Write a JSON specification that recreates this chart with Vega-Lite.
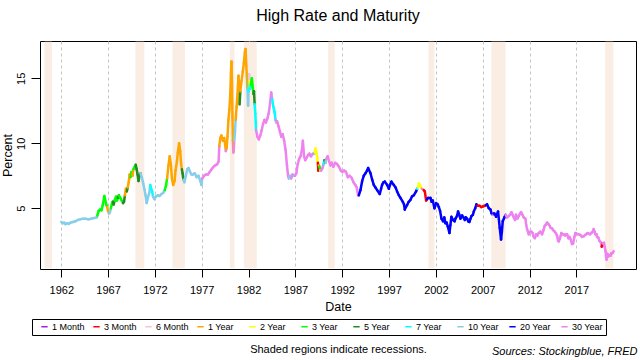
{
"$schema": "https://vega.github.io/schema/vega-lite/v6.json",
"padding": {"left": 0, "top": 7, "right": 0, "bottom": 0},
"background": "white",
"config": {
  "font": "Liberation Sans",
  "view": {"stroke": "black", "strokeWidth": 1},
  "axis": {"domain": false, "tickColor": "black", "tickSize": 9, "labelColor": "black", "labelFontSize": 11, "labelFont": "Liberation Sans", "titleFont": "Liberation Sans", "titleFontSize": 12.5, "titleFontWeight": "normal", "titleColor": "black", "gridColor": "#c4c4c4", "gridDash": [3, 3], "gridWidth": 1},
  "title": {"font": "Liberation Sans", "fontWeight": "normal", "color": "black"}
},
"title": {"text": "Sources: Stockingblue, FRED", "orient": "bottom", "anchor": "end", "fontSize": 11, "fontStyle": "italic", "offset": -9.5, "dx": 1},
"vconcat": [{
 "title": {"text": "Shaded regions indicate recessions.", "orient": "bottom", "anchor": "middle", "fontSize": 11, "offset": 31, "dx": 20},
 "vconcat": [{
  "title": {"text": "High Rate and Maturity", "fontSize": 16, "anchor": "middle", "frame": "group", "offset": 17},
  "width": 596,
  "height": 228,
  "layer": [
   {
    "data": {"values": [
      {"s": 1960.2, "e": 1961.0}, {"s": 1969.92, "e": 1970.87}, {"s": 1973.87, "e": 1975.2},
      {"s": 1980.0, "e": 1980.5}, {"s": 1981.5, "e": 1982.87}, {"s": 1990.5, "e": 1991.2},
      {"s": 2001.2, "e": 2001.85}, {"s": 2007.92, "e": 2009.45}, {"s": 2020.08, "e": 2020.95}
    ]},
    "mark": {"type": "rect", "color": "#faede3"},
    "encoding": {
      "x": {"field": "s", "type": "quantitative", "scale": {"domain": [1959.73, 2023.37], "nice": false, "zero": false},
            "axis": {"values": [1962, 1967, 1972, 1977, 1982, 1987, 1992, 1997, 2002, 2007, 2012, 2017], "format": "d", "title": "Date", "tickSize": 8, "labelPadding": 7, "titlePadding": 5}},
      "x2": {"field": "e"},
      "y": {"datum": 0.38, "type": "quantitative", "scale": {"domain": [0.33, 17.87], "nice": false, "zero": false},
            "axis": {"values": [5, 10, 15], "title": "Percent", "labelAngle": -90, "labelAlign": "center", "labelBaseline": "bottom", "labelPadding": 5, "titlePadding": 1}},
      "y2": {"datum": 17.82}
    }
   },
   {
    "data": {"values": [
{"t":1962.0,"r":3.95,"m":"10 Year"},{"t":1962.15,"r":3.85,"m":"10 Year"},{"t":1962.3,"r":3.9,"m":"10 Year"},{"t":1962.45,"r":3.78,"m":"10 Year"},{"t":1962.6,"r":3.85,"m":"10 Year"},{"t":1962.8,"r":3.8,"m":"10 Year"},{"t":1963.0,"r":3.9,"m":"10 Year"},{"t":1963.25,"r":3.95,"m":"10 Year"},{"t":1963.5,"r":4.0,"m":"10 Year"},{"t":1963.75,"r":4.1,"m":"10 Year"},{"t":1964.0,"r":4.15,"m":"10 Year"},{"t":1964.3,"r":4.2,"m":"10 Year"},{"t":1964.6,"r":4.2,"m":"10 Year"},{"t":1964.9,"r":4.15,"m":"10 Year"},{"t":1965.2,"r":4.2,"m":"10 Year"},{"t":1965.5,"r":4.25,"m":"10 Year"},{"t":1965.8,"r":4.3,"m":"10 Year"},
{"t":1965.85,"r":4.45,"m":"3 Year"},{"t":1966.0,"r":4.8,"m":"3 Year"},{"t":1966.15,"r":4.9,"m":"3 Year"},{"t":1966.3,"r":4.85,"m":"3 Year"},{"t":1966.45,"r":5.3,"m":"3 Year"},{"t":1966.6,"r":5.95,"m":"3 Year"},{"t":1966.7,"r":5.6,"m":"3 Year"},{"t":1966.8,"r":5.3,"m":"3 Year"},
{"t":1966.9,"r":5.1,"m":"1 Year"},{"t":1967.0,"r":4.8,"m":"1 Year"},
{"t":1967.1,"r":4.6,"m":"10 Year"},{"t":1967.2,"r":4.7,"m":"10 Year"},
{"t":1967.3,"r":5.0,"m":"3 Year"},{"t":1967.4,"r":5.3,"m":"3 Year"},
{"t":1967.5,"r":5.5,"m":"5 Year"},{"t":1967.6,"r":5.3,"m":"5 Year"},
{"t":1967.7,"r":5.6,"m":"3 Year"},{"t":1967.85,"r":5.9,"m":"3 Year"},{"t":1967.95,"r":5.6,"m":"3 Year"},
{"t":1968.05,"r":5.8,"m":"5 Year"},
{"t":1968.15,"r":6.0,"m":"3 Year"},{"t":1968.3,"r":5.8,"m":"3 Year"},{"t":1968.45,"r":5.6,"m":"3 Year"},
{"t":1968.6,"r":5.4,"m":"5 Year"},{"t":1968.7,"r":5.5,"m":"5 Year"},
{"t":1968.8,"r":6.0,"m":"1 Year"},{"t":1968.9,"r":6.5,"m":"1 Year"},
{"t":1969.0,"r":6.3,"m":"5 Year"},
{"t":1969.1,"r":6.6,"m":"1 Year"},{"t":1969.2,"r":7.0,"m":"1 Year"},{"t":1969.3,"r":7.6,"m":"1 Year"},
{"t":1969.4,"r":7.4,"m":"3 Year"},{"t":1969.5,"r":7.8,"m":"3 Year"},
{"t":1969.6,"r":7.5,"m":"1 Year"},
{"t":1969.7,"r":8.0,"m":"3 Year"},{"t":1969.85,"r":8.2,"m":"3 Year"},
{"t":1969.95,"r":8.35,"m":"5 Year"},{"t":1970.05,"r":8.0,"m":"5 Year"},{"t":1970.15,"r":7.6,"m":"5 Year"},{"t":1970.25,"r":7.1,"m":"5 Year"},{"t":1970.35,"r":7.5,"m":"5 Year"},
{"t":1970.45,"r":7.7,"m":"10 Year"},{"t":1970.6,"r":7.4,"m":"10 Year"},{"t":1970.75,"r":6.9,"m":"10 Year"},{"t":1970.9,"r":6.4,"m":"10 Year"},{"t":1971.0,"r":6.0,"m":"10 Year"},{"t":1971.12,"r":5.4,"m":"10 Year"},{"t":1971.25,"r":5.8,"m":"10 Year"},{"t":1971.4,"r":6.2,"m":"10 Year"},
{"t":1971.5,"r":6.8,"m":"7 Year"},{"t":1971.6,"r":6.5,"m":"7 Year"},{"t":1971.7,"r":6.3,"m":"7 Year"},
{"t":1971.8,"r":5.9,"m":"10 Year"},{"t":1971.95,"r":5.7,"m":"10 Year"},{"t":1972.1,"r":5.9,"m":"10 Year"},{"t":1972.3,"r":6.0,"m":"10 Year"},{"t":1972.5,"r":5.95,"m":"10 Year"},{"t":1972.7,"r":6.1,"m":"10 Year"},{"t":1972.9,"r":6.2,"m":"10 Year"},
{"t":1973.05,"r":6.4,"m":"3 Year"},{"t":1973.2,"r":6.8,"m":"3 Year"},
{"t":1973.3,"r":7.3,"m":"1 Year"},{"t":1973.45,"r":8.3,"m":"1 Year"},{"t":1973.58,"r":9.0,"m":"1 Year"},{"t":1973.7,"r":8.4,"m":"1 Year"},{"t":1973.82,"r":7.3,"m":"1 Year"},{"t":1973.95,"r":6.8,"m":"1 Year"},{"t":1974.1,"r":7.1,"m":"1 Year"},{"t":1974.2,"r":7.9,"m":"1 Year"},{"t":1974.35,"r":8.6,"m":"1 Year"},{"t":1974.45,"r":9.3,"m":"1 Year"},{"t":1974.58,"r":10.0,"m":"1 Year"},{"t":1974.7,"r":9.4,"m":"1 Year"},{"t":1974.8,"r":8.4,"m":"1 Year"},
{"t":1974.88,"r":8.0,"m":"5 Year"},{"t":1974.95,"r":7.7,"m":"5 Year"},
{"t":1975.05,"r":7.2,"m":"10 Year"},{"t":1975.15,"r":7.0,"m":"10 Year"},{"t":1975.3,"r":7.5,"m":"10 Year"},{"t":1975.45,"r":8.0,"m":"10 Year"},{"t":1975.6,"r":8.1,"m":"10 Year"},{"t":1975.75,"r":7.8,"m":"10 Year"},{"t":1975.9,"r":7.6,"m":"10 Year"},{"t":1976.05,"r":7.6,"m":"10 Year"},{"t":1976.25,"r":7.7,"m":"10 Year"},{"t":1976.45,"r":7.4,"m":"10 Year"},{"t":1976.65,"r":7.5,"m":"10 Year"},{"t":1976.85,"r":7.1,"m":"10 Year"},{"t":1976.97,"r":6.8,"m":"10 Year"},
{"t":1977.05,"r":7.3,"m":"30 Year"},{"t":1977.25,"r":7.5,"m":"30 Year"},{"t":1977.45,"r":7.6,"m":"30 Year"},{"t":1977.65,"r":7.6,"m":"30 Year"},{"t":1977.85,"r":7.8,"m":"30 Year"},{"t":1978.05,"r":8.0,"m":"30 Year"},{"t":1978.25,"r":8.2,"m":"30 Year"},{"t":1978.45,"r":8.3,"m":"30 Year"},{"t":1978.65,"r":8.4,"m":"30 Year"},{"t":1978.8,"r":8.6,"m":"30 Year"},
{"t":1978.88,"r":9.8,"m":"1 Year"},{"t":1978.98,"r":10.4,"m":"1 Year"},{"t":1979.1,"r":10.6,"m":"1 Year"},{"t":1979.25,"r":10.2,"m":"1 Year"},{"t":1979.4,"r":10.4,"m":"1 Year"},{"t":1979.5,"r":9.9,"m":"1 Year"},
{"t":1979.57,"r":9.4,"m":"30 Year"},
{"t":1979.65,"r":9.6,"m":"1 Year"},{"t":1979.75,"r":10.5,"m":"1 Year"},{"t":1979.85,"r":11.8,"m":"1 Year"},{"t":1979.95,"r":12.6,"m":"1 Year"},{"t":1980.05,"r":13.8,"m":"1 Year"},{"t":1980.12,"r":15.4,"m":"1 Year"},{"t":1980.18,"r":16.3,"m":"1 Year"},{"t":1980.23,"r":14.5,"m":"1 Year"},{"t":1980.28,"r":12.0,"m":"1 Year"},{"t":1980.33,"r":10.2,"m":"1 Year"},
{"t":1980.38,"r":9.3,"m":"30 Year"},{"t":1980.42,"r":9.6,"m":"30 Year"},
{"t":1980.47,"r":10.2,"m":"10 Year"},{"t":1980.55,"r":10.9,"m":"10 Year"},
{"t":1980.62,"r":11.8,"m":"1 Year"},{"t":1980.72,"r":12.8,"m":"1 Year"},{"t":1980.82,"r":13.8,"m":"1 Year"},{"t":1980.92,"r":15.2,"m":"1 Year"},{"t":1980.98,"r":14.4,"m":"1 Year"},
{"t":1981.04,"r":13.0,"m":"5 Year"},
{"t":1981.12,"r":14.0,"m":"1 Year"},{"t":1981.25,"r":14.8,"m":"1 Year"},{"t":1981.38,"r":15.5,"m":"1 Year"},{"t":1981.5,"r":16.2,"m":"1 Year"},{"t":1981.6,"r":17.0,"m":"1 Year"},{"t":1981.68,"r":17.25,"m":"1 Year"},{"t":1981.75,"r":16.0,"m":"1 Year"},{"t":1981.82,"r":15.2,"m":"1 Year"},
{"t":1981.88,"r":14.2,"m":"10 Year"},{"t":1981.95,"r":12.9,"m":"10 Year"},
{"t":1982.0,"r":14.0,"m":"7 Year"},
{"t":1982.05,"r":15.3,"m":"6 Month"},
{"t":1982.1,"r":14.8,"m":"2 Year"},
{"t":1982.17,"r":14.2,"m":"7 Year"},
{"t":1982.25,"r":14.5,"m":"3 Year"},{"t":1982.35,"r":15.0,"m":"3 Year"},{"t":1982.45,"r":14.3,"m":"3 Year"},
{"t":1982.52,"r":13.8,"m":"5 Year"},{"t":1982.58,"r":14.0,"m":"5 Year"},
{"t":1982.65,"r":13.0,"m":"7 Year"},{"t":1982.72,"r":12.3,"m":"7 Year"},
{"t":1982.8,"r":11.0,"m":"30 Year"},{"t":1982.95,"r":10.5,"m":"30 Year"},{"t":1983.1,"r":10.3,"m":"30 Year"},{"t":1983.25,"r":10.6,"m":"30 Year"},{"t":1983.4,"r":11.0,"m":"30 Year"},{"t":1983.55,"r":11.5,"m":"30 Year"},{"t":1983.7,"r":11.8,"m":"30 Year"},{"t":1983.85,"r":11.6,"m":"30 Year"},{"t":1984.0,"r":11.9,"m":"30 Year"},{"t":1984.15,"r":12.3,"m":"30 Year"},{"t":1984.3,"r":13.1,"m":"30 Year"},{"t":1984.42,"r":13.9,"m":"30 Year"},
{"t":1984.52,"r":13.4,"m":"7 Year"},{"t":1984.65,"r":12.8,"m":"7 Year"},{"t":1984.78,"r":12.4,"m":"7 Year"},
{"t":1984.88,"r":11.8,"m":"30 Year"},
{"t":1984.95,"r":11.6,"m":"10 Year"},
{"t":1985.05,"r":11.7,"m":"30 Year"},{"t":1985.2,"r":11.3,"m":"30 Year"},{"t":1985.35,"r":10.9,"m":"30 Year"},{"t":1985.5,"r":10.5,"m":"30 Year"},{"t":1985.65,"r":10.7,"m":"30 Year"},{"t":1985.8,"r":10.2,"m":"30 Year"},{"t":1985.95,"r":9.5,"m":"30 Year"},{"t":1986.1,"r":8.3,"m":"30 Year"},{"t":1986.22,"r":7.5,"m":"30 Year"},
{"t":1986.3,"r":7.3,"m":"10 Year"},{"t":1986.42,"r":7.5,"m":"10 Year"},
{"t":1986.55,"r":7.3,"m":"30 Year"},{"t":1986.7,"r":7.6,"m":"30 Year"},
{"t":1986.82,"r":7.5,"m":"10 Year"},
{"t":1986.95,"r":7.5,"m":"30 Year"},{"t":1987.1,"r":7.7,"m":"30 Year"},{"t":1987.25,"r":8.4,"m":"30 Year"},{"t":1987.4,"r":8.8,"m":"30 Year"},{"t":1987.55,"r":9.0,"m":"30 Year"},{"t":1987.68,"r":9.4,"m":"30 Year"},{"t":1987.8,"r":10.2,"m":"30 Year"},{"t":1987.92,"r":9.0,"m":"30 Year"},{"t":1988.05,"r":8.7,"m":"30 Year"},{"t":1988.2,"r":8.9,"m":"30 Year"},{"t":1988.35,"r":9.1,"m":"30 Year"},{"t":1988.5,"r":9.2,"m":"30 Year"},{"t":1988.65,"r":9.0,"m":"30 Year"},{"t":1988.78,"r":9.1,"m":"30 Year"},
{"t":1988.86,"r":9.2,"m":"7 Year"},
{"t":1988.95,"r":9.2,"m":"30 Year"},
{"t":1989.05,"r":9.3,"m":"2 Year"},{"t":1989.15,"r":9.6,"m":"2 Year"},{"t":1989.25,"r":9.2,"m":"2 Year"},{"t":1989.33,"r":8.9,"m":"2 Year"},
{"t":1989.4,"r":8.5,"m":"3 Month"},{"t":1989.45,"r":7.9,"m":"3 Month"},
{"t":1989.5,"r":8.3,"m":"1 Year"},
{"t":1989.58,"r":8.2,"m":"3 Year"},
{"t":1989.66,"r":7.9,"m":"6 Month"},
{"t":1989.75,"r":7.9,"m":"30 Year"},{"t":1989.9,"r":8.1,"m":"30 Year"},
{"t":1990.0,"r":8.4,"m":"7 Year"},
{"t":1990.1,"r":8.7,"m":"5 Year"},
{"t":1990.2,"r":8.5,"m":"10 Year"},
{"t":1990.3,"r":8.8,"m":"30 Year"},{"t":1990.45,"r":9.0,"m":"30 Year"},{"t":1990.6,"r":8.6,"m":"30 Year"},{"t":1990.75,"r":8.3,"m":"30 Year"},{"t":1990.9,"r":8.5,"m":"30 Year"},{"t":1991.05,"r":8.2,"m":"30 Year"},{"t":1991.25,"r":8.5,"m":"30 Year"},{"t":1991.45,"r":8.4,"m":"30 Year"},{"t":1991.65,"r":8.2,"m":"30 Year"},{"t":1991.85,"r":7.9,"m":"30 Year"},{"t":1992.0,"r":7.8,"m":"30 Year"},{"t":1992.2,"r":7.9,"m":"30 Year"},{"t":1992.4,"r":7.8,"m":"30 Year"},{"t":1992.6,"r":7.4,"m":"30 Year"},{"t":1992.8,"r":7.5,"m":"30 Year"},{"t":1993.0,"r":7.35,"m":"30 Year"},{"t":1993.2,"r":7.0,"m":"30 Year"},{"t":1993.4,"r":6.8,"m":"30 Year"},{"t":1993.55,"r":6.6,"m":"30 Year"},{"t":1993.7,"r":6.0,"m":"30 Year"},
{"t":1993.77,"r":6.0,"m":"20 Year"},{"t":1993.95,"r":6.4,"m":"20 Year"},{"t":1994.13,"r":7.1,"m":"20 Year"},{"t":1994.3,"r":7.5,"m":"20 Year"},{"t":1994.49,"r":7.7,"m":"20 Year"},{"t":1994.65,"r":7.9,"m":"20 Year"},{"t":1994.77,"r":8.1,"m":"20 Year"},{"t":1995.02,"r":7.7,"m":"20 Year"},{"t":1995.2,"r":7.2,"m":"20 Year"},{"t":1995.37,"r":6.8,"m":"20 Year"},{"t":1995.55,"r":6.6,"m":"20 Year"},{"t":1995.73,"r":6.4,"m":"20 Year"},{"t":1996.01,"r":6.1,"m":"20 Year"},{"t":1996.15,"r":6.5,"m":"20 Year"},{"t":1996.26,"r":6.8,"m":"20 Year"},{"t":1996.4,"r":7.0,"m":"20 Year"},{"t":1996.55,"r":7.05,"m":"20 Year"},{"t":1996.8,"r":6.8,"m":"20 Year"},{"t":1996.98,"r":6.5,"m":"20 Year"},{"t":1997.1,"r":6.8,"m":"20 Year"},{"t":1997.26,"r":7.05,"m":"20 Year"},{"t":1997.51,"r":6.8,"m":"20 Year"},{"t":1997.7,"r":6.6,"m":"20 Year"},{"t":1997.86,"r":6.3,"m":"20 Year"},{"t":1998.05,"r":6.0,"m":"20 Year"},{"t":1998.22,"r":5.8,"m":"20 Year"},{"t":1998.47,"r":5.5,"m":"20 Year"},{"t":1998.6,"r":5.3,"m":"20 Year"},{"t":1998.68,"r":4.9,"m":"20 Year"},{"t":1998.8,"r":5.1,"m":"20 Year"},{"t":1998.93,"r":5.25,"m":"20 Year"},{"t":1999.1,"r":5.5,"m":"20 Year"},{"t":1999.29,"r":5.65,"m":"20 Year"},{"t":1999.45,"r":5.9,"m":"20 Year"},{"t":1999.64,"r":6.0,"m":"20 Year"},{"t":1999.89,"r":6.3,"m":"20 Year"},
{"t":2000.0,"r":6.5,"m":"7 Year"},
{"t":2000.1,"r":6.6,"m":"2 Year"},{"t":2000.2,"r":6.9,"m":"2 Year"},{"t":2000.35,"r":6.7,"m":"2 Year"},
{"t":2000.5,"r":6.5,"m":"30 Year"},
{"t":2000.7,"r":6.4,"m":"3 Month"},{"t":2000.82,"r":6.3,"m":"3 Month"},{"t":2000.96,"r":5.6,"m":"3 Month"},
{"t":2001.05,"r":5.7,"m":"20 Year"},{"t":2001.17,"r":5.8,"m":"20 Year"},{"t":2001.42,"r":5.8,"m":"20 Year"},{"t":2001.55,"r":5.5,"m":"20 Year"},{"t":2001.67,"r":5.6,"m":"20 Year"},{"t":2001.85,"r":5.0,"m":"20 Year"},{"t":2002.03,"r":5.4,"m":"20 Year"},{"t":2002.2,"r":5.3,"m":"20 Year"},{"t":2002.31,"r":5.1,"m":"20 Year"},{"t":2002.45,"r":4.8,"m":"20 Year"},{"t":2002.6,"r":4.2,"m":"20 Year"},{"t":2002.77,"r":4.0,"m":"20 Year"},{"t":2002.9,"r":4.3,"m":"20 Year"},{"t":2003.02,"r":3.85,"m":"20 Year"},{"t":2003.15,"r":3.9,"m":"20 Year"},{"t":2003.27,"r":3.6,"m":"20 Year"},{"t":2003.45,"r":3.1,"m":"20 Year"},{"t":2003.55,"r":3.7,"m":"20 Year"},{"t":2003.66,"r":4.35,"m":"20 Year"},{"t":2003.84,"r":4.1,"m":"20 Year"},{"t":2004.0,"r":4.0,"m":"20 Year"},{"t":2004.09,"r":4.2,"m":"20 Year"},{"t":2004.25,"r":4.4,"m":"20 Year"},{"t":2004.37,"r":4.75,"m":"20 Year"},{"t":2004.5,"r":4.5,"m":"20 Year"},{"t":2004.62,"r":4.2,"m":"20 Year"},{"t":2004.8,"r":4.45,"m":"20 Year"},{"t":2004.95,"r":4.3,"m":"20 Year"},{"t":2005.09,"r":4.1,"m":"20 Year"},{"t":2005.2,"r":4.3,"m":"20 Year"},{"t":2005.34,"r":4.2,"m":"20 Year"},{"t":2005.45,"r":4.0,"m":"20 Year"},{"t":2005.58,"r":3.95,"m":"20 Year"},{"t":2005.7,"r":4.2,"m":"20 Year"},{"t":2005.8,"r":4.4,"m":"20 Year"},{"t":2005.95,"r":4.5,"m":"20 Year"},{"t":2006.05,"r":4.75,"m":"20 Year"},{"t":2006.2,"r":5.0,"m":"20 Year"},{"t":2006.33,"r":5.3,"m":"20 Year"},
{"t":2006.45,"r":5.2,"m":"3 Month"},{"t":2006.65,"r":5.2,"m":"3 Month"},{"t":2006.85,"r":5.1,"m":"3 Month"},{"t":2007.05,"r":5.15,"m":"3 Month"},{"t":2007.25,"r":5.2,"m":"3 Month"},
{"t":2007.35,"r":5.25,"m":"20 Year"},{"t":2007.47,"r":5.3,"m":"20 Year"},{"t":2007.65,"r":5.0,"m":"20 Year"},{"t":2007.83,"r":4.9,"m":"20 Year"},{"t":2007.95,"r":4.6,"m":"20 Year"},
{"t":2008.07,"r":4.5,"m":"30 Year"},
{"t":2008.15,"r":4.6,"m":"20 Year"},{"t":2008.25,"r":4.6,"m":"20 Year"},{"t":2008.43,"r":4.35,"m":"20 Year"},{"t":2008.64,"r":4.75,"m":"20 Year"},{"t":2008.82,"r":3.5,"m":"20 Year"},{"t":2008.96,"r":2.6,"m":"20 Year"},{"t":2009.05,"r":3.2,"m":"20 Year"},{"t":2009.14,"r":4.0,"m":"20 Year"},{"t":2009.32,"r":4.3,"m":"20 Year"},
{"t":2009.45,"r":4.5,"m":"30 Year"},{"t":2009.6,"r":4.3,"m":"30 Year"},{"t":2009.78,"r":4.4,"m":"30 Year"},{"t":2009.92,"r":4.5,"m":"30 Year"},{"t":2010.07,"r":4.7,"m":"30 Year"},{"t":2010.2,"r":4.5,"m":"30 Year"},{"t":2010.32,"r":4.3,"m":"30 Year"},{"t":2010.45,"r":4.1,"m":"30 Year"},{"t":2010.56,"r":4.5,"m":"30 Year"},{"t":2010.7,"r":4.2,"m":"30 Year"},{"t":2010.85,"r":4.4,"m":"30 Year"},{"t":2011.0,"r":4.6,"m":"30 Year"},{"t":2011.1,"r":4.7,"m":"30 Year"},{"t":2011.25,"r":4.5,"m":"30 Year"},{"t":2011.38,"r":4.3,"m":"30 Year"},{"t":2011.56,"r":4.2,"m":"30 Year"},{"t":2011.65,"r":3.7,"m":"30 Year"},{"t":2011.74,"r":3.4,"m":"30 Year"},{"t":2011.92,"r":3.0,"m":"30 Year"},{"t":2012.05,"r":3.2,"m":"30 Year"},{"t":2012.2,"r":3.2,"m":"30 Year"},{"t":2012.32,"r":3.1,"m":"30 Year"},{"t":2012.45,"r":2.8,"m":"30 Year"},{"t":2012.58,"r":2.7,"m":"30 Year"},{"t":2012.7,"r":3.0,"m":"30 Year"},{"t":2012.85,"r":2.9,"m":"30 Year"},{"t":2012.98,"r":3.1,"m":"30 Year"},{"t":2013.15,"r":3.2,"m":"30 Year"},{"t":2013.34,"r":3.0,"m":"30 Year"},{"t":2013.48,"r":3.3,"m":"30 Year"},{"t":2013.62,"r":3.65,"m":"30 Year"},{"t":2013.75,"r":3.75,"m":"30 Year"},{"t":2013.87,"r":3.9,"m":"30 Year"},{"t":2014.0,"r":3.8,"m":"30 Year"},{"t":2014.12,"r":3.7,"m":"30 Year"},{"t":2014.25,"r":3.5,"m":"30 Year"},{"t":2014.41,"r":3.45,"m":"30 Year"},{"t":2014.55,"r":3.3,"m":"30 Year"},{"t":2014.69,"r":3.2,"m":"30 Year"},{"t":2014.8,"r":3.1,"m":"30 Year"},{"t":2014.94,"r":2.9,"m":"30 Year"},{"t":2015.05,"r":2.5,"m":"30 Year"},{"t":2015.12,"r":2.45,"m":"30 Year"},{"t":2015.25,"r":2.7,"m":"30 Year"},{"t":2015.4,"r":3.1,"m":"30 Year"},{"t":2015.52,"r":3.0,"m":"30 Year"},{"t":2015.65,"r":3.0,"m":"30 Year"},{"t":2015.8,"r":2.9,"m":"30 Year"},{"t":2015.9,"r":3.0,"m":"30 Year"},{"t":2016.01,"r":3.0,"m":"30 Year"},{"t":2016.15,"r":2.7,"m":"30 Year"},{"t":2016.26,"r":2.8,"m":"30 Year"},{"t":2016.4,"r":2.6,"m":"30 Year"},{"t":2016.54,"r":2.25,"m":"30 Year"},{"t":2016.65,"r":2.3,"m":"30 Year"},{"t":2016.79,"r":2.8,"m":"30 Year"},{"t":2016.9,"r":3.1,"m":"30 Year"},{"t":2017.0,"r":3.05,"m":"30 Year"},{"t":2017.2,"r":3.0,"m":"30 Year"},{"t":2017.43,"r":2.95,"m":"30 Year"},{"t":2017.6,"r":2.8,"m":"30 Year"},{"t":2017.79,"r":2.85,"m":"30 Year"},{"t":2018.03,"r":3.0,"m":"30 Year"},{"t":2018.2,"r":3.1,"m":"30 Year"},{"t":2018.32,"r":3.05,"m":"30 Year"},{"t":2018.45,"r":3.0,"m":"30 Year"},{"t":2018.6,"r":3.1,"m":"30 Year"},{"t":2018.75,"r":3.2,"m":"30 Year"},{"t":2018.85,"r":3.4,"m":"30 Year"},{"t":2018.95,"r":3.2,"m":"30 Year"},{"t":2019.03,"r":3.0,"m":"30 Year"},{"t":2019.15,"r":3.0,"m":"30 Year"},{"t":2019.21,"r":2.8,"m":"30 Year"},{"t":2019.35,"r":2.75,"m":"30 Year"},{"t":2019.46,"r":2.5,"m":"30 Year"},{"t":2019.6,"r":2.4,"m":"30 Year"},
{"t":2019.7,"r":2.05,"m":"3 Month"},{"t":2019.76,"r":2.1,"m":"3 Month"},
{"t":2019.82,"r":2.3,"m":"30 Year"},{"t":2019.95,"r":2.35,"m":"30 Year"},{"t":2020.03,"r":2.05,"m":"30 Year"},{"t":2020.12,"r":1.7,"m":"30 Year"},{"t":2020.17,"r":1.3,"m":"30 Year"},{"t":2020.22,"r":1.05,"m":"30 Year"},{"t":2020.31,"r":1.5,"m":"30 Year"},{"t":2020.42,"r":1.3,"m":"30 Year"},{"t":2020.53,"r":1.4,"m":"30 Year"},{"t":2020.65,"r":1.35,"m":"30 Year"},{"t":2020.74,"r":1.55,"m":"30 Year"},{"t":2020.85,"r":1.55,"m":"30 Year"},{"t":2020.99,"r":1.7,"m":"30 Year"}
    ]},
    "transform": [
      {"window": [{"op": "lead", "field": "t", "as": "tn"}, {"op": "lead", "field": "r", "as": "rn"}], "sort": [{"field": "t", "order": "ascending"}]},
      {"filter": "datum.tn != null"}
    ],
    "mark": {"type": "rule", "strokeWidth": 2.5, "strokeCap": "round"},
    "encoding": {
      "x": {"field": "t", "type": "quantitative", "scale": {"domain": [1959.73, 2023.37], "nice": false, "zero": false},
            "axis": {"values": [1962, 1967, 1972, 1977, 1982, 1987, 1992, 1997, 2002, 2007, 2012, 2017], "format": "d", "title": "Date", "tickSize": 8, "labelPadding": 7, "titlePadding": 5}},
      "x2": {"field": "tn"},
      "y": {"field": "r", "type": "quantitative", "scale": {"domain": [0.33, 17.87], "nice": false, "zero": false},
            "axis": {"values": [5, 10, 15], "title": "Percent", "labelAngle": -90, "labelAlign": "center", "labelBaseline": "bottom", "labelPadding": 5, "titlePadding": 1}},
      "y2": {"field": "rn"},
      "color": {"field": "m", "type": "nominal",
        "scale": {"domain": ["1 Month", "3 Month", "6 Month", "1 Year", "2 Year", "3 Year", "5 Year", "7 Year", "10 Year", "20 Year", "30 Year"],
                  "range": ["#A020F0", "#FF0000", "#FFC0CB", "#FFA500", "#FFFF00", "#00FF00", "#228B22", "#00FFFF", "#87CEEB", "#0000FF", "#EE82EE"]},
        "legend": {"orient": "none", "legendX": -8, "legendY": 278, "direction": "horizontal", "columns": 11, "gridAlign": "all", "title": null,
                   "symbolType": "stroke", "symbolSize": 40, "symbolStrokeWidth": 1.5, "labelFontSize": 9, "labelFont": "Liberation Sans", "labelColor": "black",
                   "labelOffset": 3, "columnPadding": 2, "padding": 3, "strokeColor": "black", "symbolOffset": 5}}
    }
   }
  ]
 }]
}]
}
